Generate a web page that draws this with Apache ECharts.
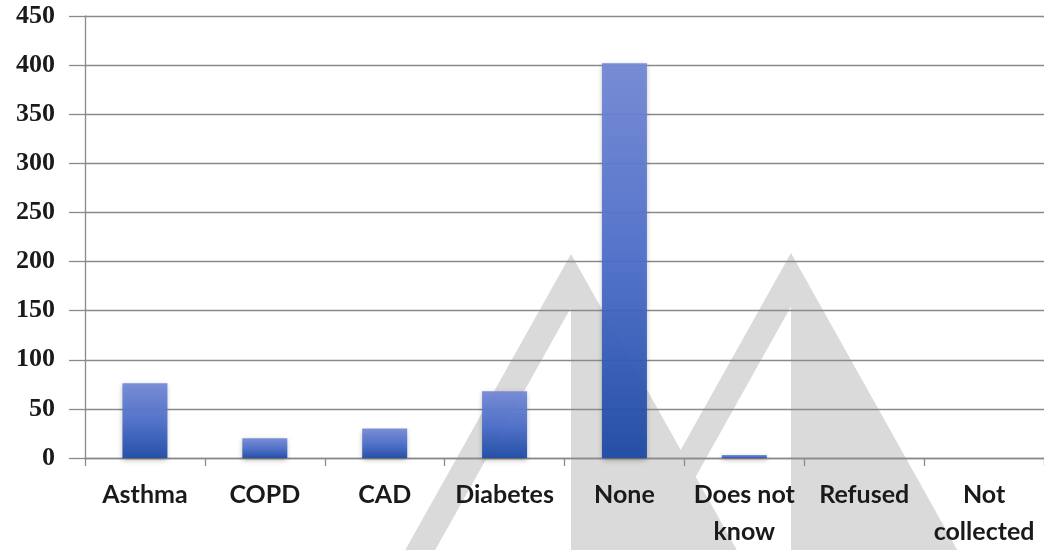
<!DOCTYPE html>
<html>
<head>
<meta charset="utf-8">
<script src="https://cdn.jsdelivr.net/npm/echarts@6/dist/echarts.min.js"></script>
<style>
  html, body { margin: 0; padding: 0; background: #ffffff; }
  #chart { width: 1044px; height: 550px; }
</style>
</head>
<body>
<div id="chart"></div>
<script>
// Chronic conditions reported by respondents
const categories = ['Asthma', 'COPD', 'CAD', 'Diabetes', 'None', 'Does not know', 'Refused', 'Not collected'];
const tickLabels = ['Asthma', 'COPD', 'CAD', 'Diabetes', 'None', 'Does not\nknow', 'Refused', 'Not\ncollected'];
const counts = [76, 20, 30, 68, 402, 3, 0, 0];
const yTicks = [0, 50, 100, 150, 200, 250, 300, 350, 400, 450];

const chart = echarts.init(document.getElementById('chart'), null, { renderer: 'canvas' });

// Two peaked background marks: a slanted left stripe and a filled right half
const markFill = '#dadada';
function peak(px, py, bottom) {
  const h = bottom - py;
  const slope = 0.56;
  const stripe = 30;
  const leftOuter = px - slope * h;
  return [
    { type: 'polygon', silent: true,
      shape: { points: [[px, py], [px + slope * h, bottom], [px, bottom]] },
      style: { fill: markFill } },
    { type: 'polygon', silent: true,
      shape: { points: [[px, py], [px, py + stripe / slope], [leftOuter + stripe, bottom], [leftOuter, bottom]] },
      style: { fill: markFill } }
  ];
}

const option = {
  backgroundColor: '#ffffff',
  animation: false,
  graphic: { zlevel: 0, elements: [...peak(571, 254, 550), ...peak(791, 253, 550)] },
  grid: { left: 85, right: -1, top: 16, bottom: 90, containLabel: false },
  xAxis: {
    type: 'category',
    zlevel: 1,
    data: categories,
    axisLine: { show: true, lineStyle: { color: '#8a8a8a', width: 1.3 } },
    axisTick: { show: true, length: 8, lineStyle: { color: '#8a8a8a', width: 1.3 } },
    axisLabel: {
      formatter: (v, i) => tickLabels[i],
      interval: 0,
      margin: 18,
      color: '#1a1a1a',
      fontFamily: 'Lato',
      fontWeight: 'bold',
      fontSize: 25,
      lineHeight: 37
    }
  },
  yAxis: {
    type: 'value',
    zlevel: 1,
    min: yTicks[0],
    max: yTicks[yTicks.length - 1],
    interval: 50,
    axisLine: { show: true, lineStyle: { color: '#8a8a8a', width: 1.3 } },
    axisTick: { show: true, inside: false, length: 16, lineStyle: { color: '#8a8a8a', width: 1.3 } },
    splitLine: { show: true, lineStyle: { color: '#8a8a8a', width: 1.3 } },
    axisLabel: {
      margin: 30,
      color: '#1a1a1a',
      fontFamily: 'Liberation Serif',
      fontWeight: 'bold',
      fontSize: 26
    }
  },
  series: [{
    type: 'bar',
    zlevel: 1,
    data: counts,
    barWidth: 45,
    itemStyle: {
      opacity: 0.94,
      color: new echarts.graphic.LinearGradient(0, 0, 0, 1, [
        { offset: 0, color: '#7489d6' },
        { offset: 0.5, color: '#4d6fcb' },
        { offset: 1, color: '#1d4aa6' }
      ]),
      shadowBlur: 5,
      shadowColor: 'rgba(0,0,0,0.3)',
      shadowOffsetY: 2
    }
  }]
};

chart.setOption(option);
</script>
</body>
</html>
